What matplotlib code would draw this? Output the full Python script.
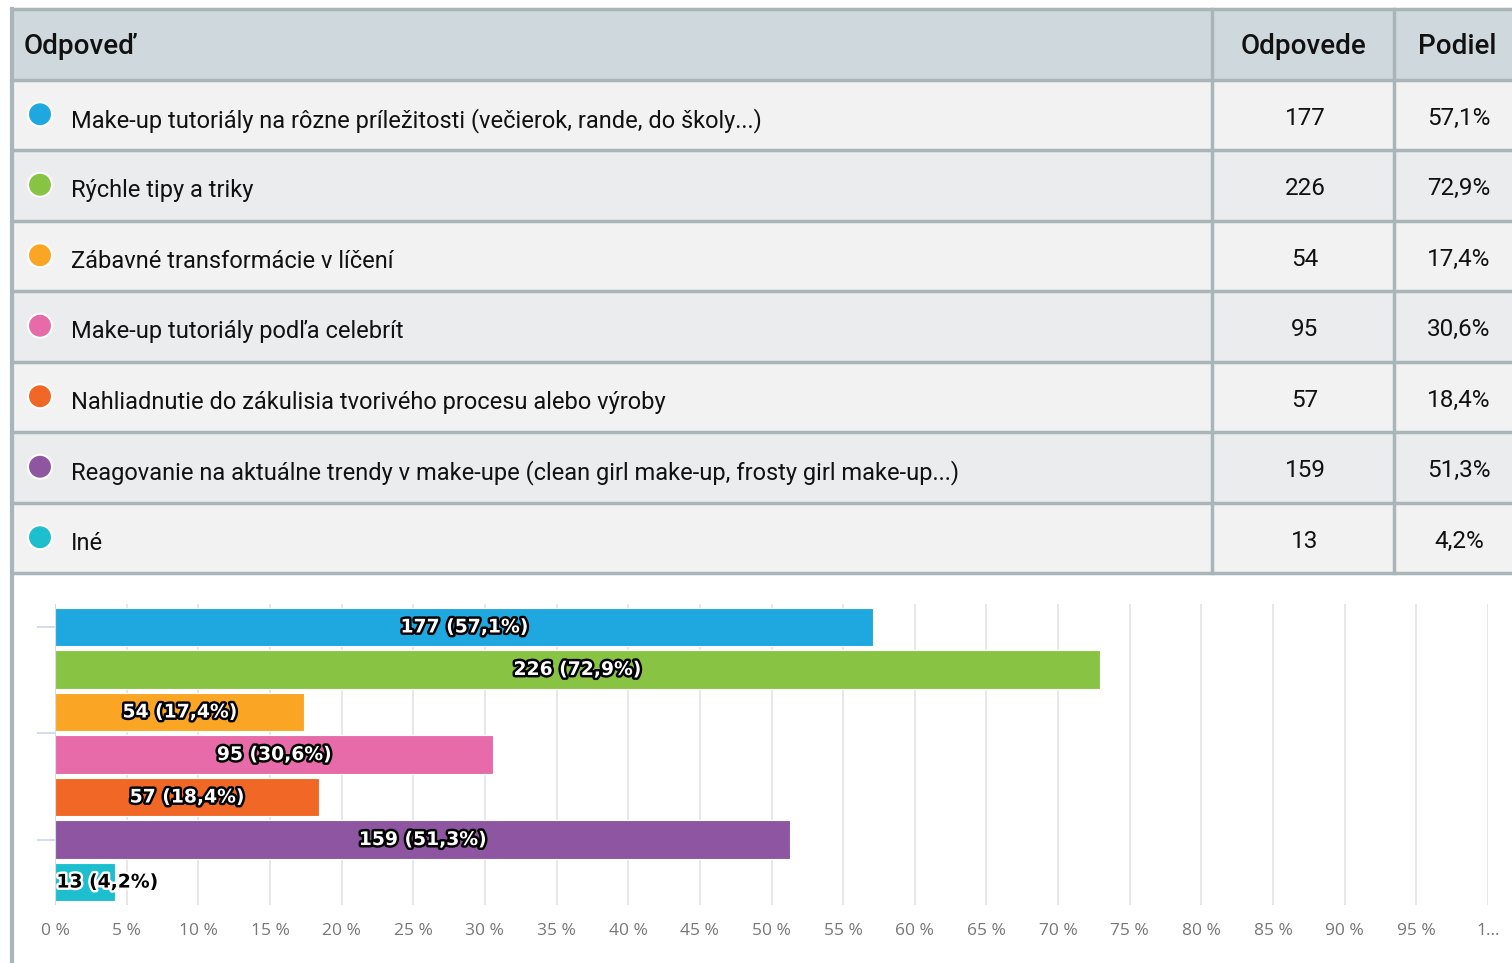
import matplotlib
matplotlib.use("Agg")
import matplotlib.pyplot as plt
import matplotlib.patheffects as pe
from matplotlib.patches import Rectangle, Circle

# survey answers
answers = [
    "Make-up tutoriály na rôzne príležitosti (večierok, rande, do školy...)",
    "Rýchle tipy a triky",
    "Zábavné transformácie v líčení",
    "Make-up tutoriály podľa celebrít",
    "Nahliadnutie do zákulisia tvorivého procesu alebo výroby",
    "Reagovanie na aktuálne trendy v make-upe (clean girl make-up, frosty girl make-up...)",
    "Iné",
]
counts = [177, 226, 54, 95, 57, 159, 13]
shares = [57.1, 72.9, 17.4, 30.6, 18.4, 51.3, 4.2]
colors = ["#1FA8E0", "#88C344", "#FAA624", "#E66BA8", "#F06726", "#8E55A0", "#1DBFCE"]
headers = ["Odpoveď", "Odpovede", "Podiel"]
xticks = list(range(0, 101, 5))
xticklabels = [f"{t} %" for t in xticks[:-1]] + ["1…"]

W, H = 1512, 963
fig = plt.figure(figsize=(W / 100, H / 100), dpi=100)
fig.patch.set_facecolor("white")

tfont = ["Roboto", "DejaVu Sans"]

# ---- table (pixel coordinates) ----
tab = fig.add_axes([0, 0, 1, 1])
tab.set_xlim(0, W)
tab.set_ylim(H, 0)
tab.axis("off")

border = "#A9B5B9"
x0, x1, x2, x3 = 12, 1212, 1394, W + 5
top, head_h, row_h = 9, 71, 70.5

tab.add_patch(Rectangle((x0, top), x3 - x0, head_h, facecolor="#CFD8DC", edgecolor="none"))
for i in range(len(answers)):
    y = top + head_h + i * row_h
    fc = "#F2F2F2" if i % 2 == 0 else "#EAECED"
    tab.add_patch(Rectangle((x0, y), x3 - x0, row_h, facecolor=fc, edgecolor="none"))

bottom = top + head_h + len(answers) * row_h
for k in range(len(answers) + 2):
    y = top if k == 0 else top + head_h + (k - 1) * row_h
    tab.plot([x0, x3], [y, y], color=border, lw=2.5, solid_capstyle="butt")
for x in (x1, x2):
    tab.plot([x, x], [top, bottom], color=border, lw=2.5)
# left edge of the whole panel, continues past the table
tab.plot([x0, x0], [top, H], color=border, lw=3)

hy = top + head_h / 2 + 2
hkw = dict(fontsize=20, family=tfont, weight="medium", va="center", color="#111111")
tab.text(24, hy, headers[0], ha="left", **hkw)
tab.text((x1 + x2) / 2, hy, headers[1], ha="center", **hkw)
tab.text((x2 + W) / 2 + 4, hy, headers[2], ha="center", **hkw)

for i, (a, c, s, col) in enumerate(zip(answers, counts, shares, colors)):
    cy = top + head_h + i * row_h + row_h / 2 + 5
    tab.add_patch(Circle((40, cy - 6), 12, facecolor=col, edgecolor="white", lw=1.5))
    tab.text(71, cy, a, fontsize=17, family=tfont, va="center", ha="left", color="#111111")
    tab.text(1305, cy - 2, str(c), fontsize=17.5, family=tfont, va="center", ha="center", color="#111111")
    tab.text(1459, cy - 2, f"{s:.1f}%".replace(".", ","), fontsize=17.5, family=tfont,
             va="center", ha="center", color="#111111")

# ---- bar chart ----
ax_l, ax_r, ax_t, ax_b = 55, 1488, 604, 905
ax = fig.add_axes([ax_l / W, 1 - ax_b / H, (ax_r - ax_l) / W, (ax_b - ax_t) / H])
ax.set_facecolor("none")
ypos = list(range(len(answers)))
ax.barh(ypos, shares, height=0.9, color=colors, edgecolor="white", linewidth=0.8, zorder=2)
ax.set_xlim(0, 100)
ax.set_ylim(len(answers) - 0.46, -0.54)

ax.set_xticks(xticks)
ax.set_xticklabels(xticklabels, color="#777777", fontsize=12.5, family=["Open Sans", "DejaVu Sans"])
ax.tick_params(axis="x", length=0, pad=13)
ax.grid(axis="x", color="#E3E3E3", lw=1.2, zorder=0)
ax.set_yticks([0, 2.5, 5])
ax.set_yticklabels([])
ax.tick_params(axis="y", length=13, color="#CCD6EB", width=1.2)
for sp in ax.spines.values():
    sp.set_visible(False)
ax.axvline(0, color="#CCD6EB", lw=1.2, zorder=3)

for y, c, s in zip(ypos, counts, shares):
    label = f"{c} ({s:.1f}%)".replace(".", ",")
    if s > 10:
        ax.text(s / 2, y, label, ha="center", va="center", fontsize=13.5, weight="bold",
                color="white", zorder=4,
                path_effects=[pe.withStroke(linewidth=3.5, foreground="black")])
    else:
        ax.text(0.1, y, label, ha="left", va="center", fontsize=13.5, weight="bold",
                color="black", zorder=4,
                path_effects=[pe.withStroke(linewidth=3.5, foreground="white")])

fig.savefig("out.png", dpi=100)
